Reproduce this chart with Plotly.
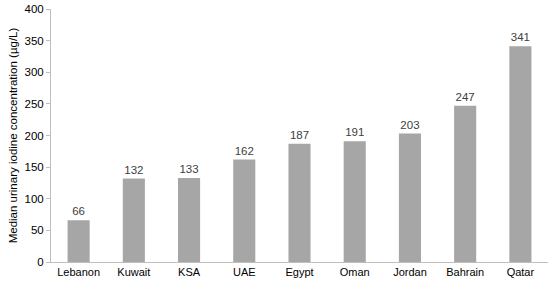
import plotly.graph_objects as go

countries = ["Lebanon", "Kuwait", "KSA", "UAE", "Egypt", "Oman", "Jordan", "Bahrain", "Qatar"]
uic = [66, 132, 133, 162, 187, 191, 203, 247, 341]
y_ticks = [0, 50, 100, 150, 200, 250, 300, 350, 400]

fig = go.Figure(go.Bar(
    x=countries, y=uic,
    marker=dict(color="#a6a6a6", line=dict(width=0)),
    text=[str(v) for v in uic], textposition="outside",
    textfont=dict(family="Liberation Sans, Arial", size=11.5, color="#404040"),
    cliponaxis=False,
))

fig.update_layout(
    width=550, height=285,
    margin=dict(l=51, r=2, t=9, b=23, autoexpand=False),
    paper_bgcolor="white", plot_bgcolor="white",
    bargap=0.6,
    showlegend=False,
    font=dict(family="Liberation Sans, Arial", size=12, color="#000000"),
)
fig.update_xaxes(
    automargin=False,
    showline=True, linecolor="#bfbfbf", linewidth=1,
    ticks="", showgrid=False,
    tickfont=dict(size=11, color="#000000"),
)
fig.update_yaxes(
    automargin=False,
    range=[0, 400], tickvals=y_ticks, showgrid=False, zeroline=False,
    showline=True, linecolor="#bfbfbf", linewidth=1,
    ticks="outside", ticklen=4, tickcolor="#bfbfbf",
    tickfont=dict(size=11.5, color="#000000"),
    title=dict(text="Median urinary iodine concentration (µg/L)", font=dict(size=11.5), standoff=4),
)

# remove the default page margin so the figure fills the window exactly
fig.write_html(
    "out.html",
    config={"displayModeBar": False},
    post_script="document.body.style.margin='0';document.body.style.overflow='hidden';",
)
